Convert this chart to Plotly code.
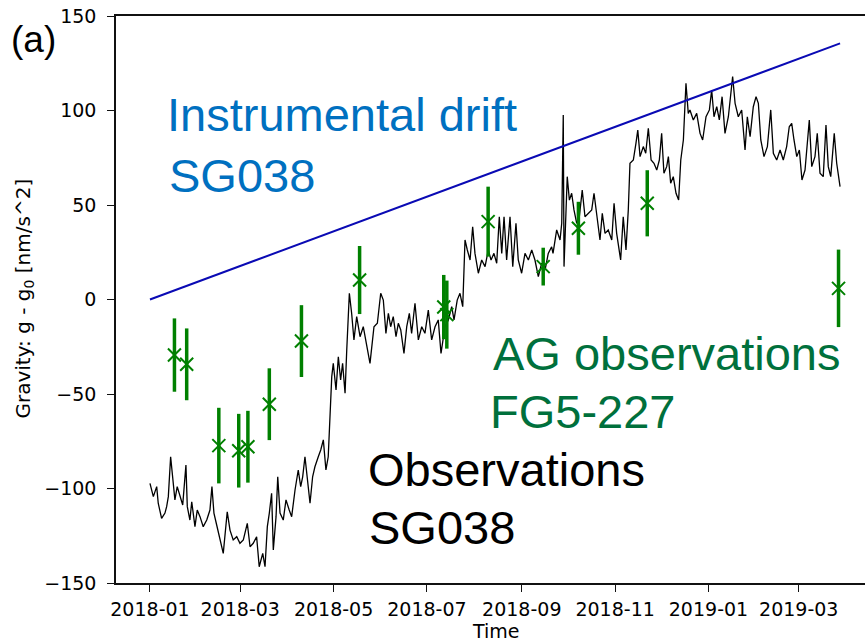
import pandas as pd
import plotly.graph_objects as go

# ---------------- data ----------------
base_date = pd.Timestamp("2018-01-01")

# SG038 observations: days since 2018-01-01, gravity residual [nm/s^2]
sg_day = [0, 2.2, 4.4, 5.4, 7.6, 9.8, 10.9, 12.0, 13.5, 14.6, 16.3, 17.8, 19.6, 21.4, 23.5, 24.4,
          26.1, 27.3, 29.4, 30.9, 32.7, 34.8, 37.1, 39.2, 40.5, 41.8, 43.6, 45.8, 47.9, 50.5, 52.3,
          54.4, 56.7, 58.8, 61.0, 63.6, 65.4, 67.5, 69.7, 71.4, 73.7, 75.2, 76.7, 78.0,
          79.5, 80.6, 82.4, 83.5, 85.0, 87.1, 88.9, 91.0, 92.6, 94.8, 96.9, 98.5, 99.8, 101.3,
          102.8, 104.6, 106.3, 107.8, 110.0, 111.6, 113.3, 115.0, 116.5, 117.6, 118.8, 119.8,
          121.6, 123.1, 124.6, 125.9, 127.5, 128.6, 130.3, 131.8, 133.3, 135.1, 137.3, 139.4,
          141.6, 143.8, 146.4, 148.6, 150.8,
          152.5, 154.2, 155.8, 157.3, 159.0, 160.8, 162.3, 163.9, 166.0, 167.8, 169.5, 171.0,
          173.2, 175.4, 177.6, 179.7, 181.9, 184.1, 186.3, 188.4, 190.2, 192.8, 195.0, 197.2,
          198.7, 200.8, 202.6, 204.4, 205.9, 207.4, 209.2, 210.9, 212.4, 214.6, 216.8, 219.0,
          221.1, 222.9, 224.8, 226.6, 228.3, 229.9, 231.4, 233.1, 235.3, 237.1, 239.2, 240.7,
          242.9, 245.1, 247.3, 249.5, 251.6, 253.8, 256.0, 258.2, 260.3,
          262.5, 263.4, 265.8, 268.0, 269.1, 270.1, 270.6, 271.9, 272.7, 274.1, 275.6, 277.1,
          278.9, 280.6, 282.5, 284.3, 286.5, 288.7, 290.2, 292.0, 294.1, 295.6, 297.4, 299.5,
          301.8, 303.3, 305.0, 307.6, 309.3, 311.1, 312.6, 313.7, 315.9, 317.6, 318.8, 320.3,
          322.4, 324.0, 325.7, 327.5, 329.4, 331.2, 332.9, 334.4, 335.9, 337.7, 338.8, 340.3,
          342.0, 343.8, 345.5, 346.9, 348.6, 349.2, 350.3, 351.8,
          352.9, 355.1, 357.3, 359.5, 361.2, 363.4, 365.6, 367.1, 368.6, 370.4, 372.1, 373.9,
          375.8, 378.0, 380.8, 382.4, 384.5, 386.7, 388.9, 390.4, 392.2, 394.3, 396.1, 397.6,
          399.2, 401.3, 403.5, 405.7, 407.4, 409.6, 411.8, 413.9, 416.1, 417.8, 419.4, 420.9,
          422.7, 424.4, 426.1, 428.1, 429.6, 430.9, 432.5, 434.6, 436.1, 437.9, 440.0, 441.8,
          443.3, 444.9, 447.2, 448.8, 451.0]
sg_val = [-97.3, -104.3, -99, -107.8, -115.8, -113, -109.6, -104.3, -83.2, -93.8, -106, -99, -104.3,
          -108.7, -87.6, -109.6, -116.7, -107, -120.2, -111.4, -114.9, -120.2, -116.7, -111.4, -99,
          -113, -119.3, -127.2, -134.3, -112.3, -122, -127.2, -125.5, -129, -127.2, -118.4, -130.8,
          -129, -125.5, -141.4, -134.3, -141.4, -120.2, -113,
          -102.5, -132.5, -114.9, -93.8, -113, -116.7, -106, -111.4, -114.9, -100.8, -90.2, -99,
          -93.8, -83.2, -95.5, -107.8, -93.8, -88.5, -83.2, -79.6, -74.3, -90.2, -83.2, -63.8,
          -40.8, -33.8, -47.9, -30.3, -42.6, -33.8, -49.6, -26.7, 3.3, -7.3, -21.4, -9.1, -19.7,
          -14.4, -23.2, -33.8, -14.4, -12.6, 3.3,
          -0.3, -17.9, -7.3, -14.4, -9.1, -19.7, -12.6, -16.1, -28.5, -14.4, -7.3, -17.9, -2,
          -21.4, -14.4, -17.9, -5.6, -21.4, -14.4, -10.8, -28.5, -14.4, -10.8, -3.8, -10.8, -0.3,
          3.3, -3.8, 31.5, 26.2, 20.9, 38.5, 24.4, 13.9, 20.9, 17.4, 26.2, 20.9, 24.4, 19.2, 43.8,
          24.4, 43.8, 20.9, 43.8, 17.4, 40.3, 20.9, 13.9, 24.4, 20.9, 26.2, 20.9, 12.1, 19.2, 15.6,
          24.4,
          27.9, 24.4, 36.8, 31.5, 40.3, 97.6, 17.4, 47.4, 65, 52.6, 56.2, 47.4, 40.3, 43.8, 57.9,
          43.8, 45.6, 47.4, 56.2, 43.8, 31.5, 45.6, 35, 36.8, 31.5, 50.9, 35, 20.9, 43.8, 26.2,
          47.4, 72.1, 73.8, 82.6, 89.7, 75.6, 80.9, 77.4, 90.6, 73.8, 72.1, 68.5, 73.8, 87.9, 66.8,
          70.3, 75.6, 61.5, 65, 56.2, 52.6, 73.8, 84.4, 95, 114.4, 98.5,
          100.3, 95, 98.5, 87.9, 84.4, 96.7, 100.3, 110.8, 96.7, 102, 95, 107.3, 87.9, 96.7, 117.9,
          103.8, 96.7, 100.3, 79.1, 96.7, 86.1, 102, 107.3, 103.8, 84.4, 75.6, 80.9, 100.3, 77.4,
          73.8, 79.1, 73.8, 80.9, 91.4, 93.2, 84.4, 75.6, 79.1, 63.2, 68.5, 80.9, 95, 70.3, 75.6,
          87.9, 66.8, 65, 92.3, 70.3, 65, 87.9, 72.1, 59.7]

# Instrumental drift (linear)
drift_date = ["2018-01-01", "2019-03-28"]
drift_val = [0, 135.5]

# AG observations FG5-227
ag_date = ["2018-01-17", "2018-01-25", "2018-02-15", "2018-02-28", "2018-03-06", "2018-03-20",
           "2018-04-10", "2018-05-18", "2018-07-12", "2018-07-14", "2018-08-10", "2018-09-15",
           "2018-10-08", "2018-11-22", "2019-03-27"]
ag_val = [-29.4, -34.3, -77.3, -80, -77.9, -55.4, -22, 10.3, -4, -8, 41.2, 17.4, 37.7, 50.9, 5.9]
ag_err = [19.4, 19, 20, 19.5, 19, 19, 19, 18, 17, 18, 18.5, 10, 14, 17.5, 20.5]

y_ticks = [-150, -100, -50, 0, 50, 100, 150]

# ---------------- figure ----------------
sg_dates = base_date + pd.to_timedelta(sg_day, unit="D")

fig = go.Figure()
fig.add_trace(go.Scatter(x=sg_dates, y=sg_val, mode="lines",
                         line=dict(color="black", width=1.3), hoverinfo="skip"))
fig.add_trace(go.Scatter(x=pd.to_datetime(drift_date), y=drift_val, mode="lines",
                         line=dict(color="#0a0ab4", width=2)))
fig.add_trace(go.Scatter(x=pd.to_datetime(ag_date), y=ag_val, mode="markers",
                         marker=dict(symbol="x-thin", size=13, color="#008000",
                                     line=dict(color="#008000", width=2)),
                         error_y=dict(type="data", array=ag_err, color="#008000",
                                      thickness=3.5, width=0)))

tick_font = dict(family="DejaVu Sans", size=19, color="black")
x_start = base_date + pd.Timedelta(days=-22.2)
x_end = base_date + pd.Timedelta(days=467.3)

fig.update_layout(
    width=865, height=643,
    margin=dict(l=116, r=0, t=16, b=60),
    plot_bgcolor="white", paper_bgcolor="white",
    showlegend=False,
    xaxis=dict(range=[x_start, x_end], showgrid=False, zeroline=False,
               showline=True, linecolor="#111", linewidth=1.5, mirror=True,
               ticks="outside", ticklen=7, tickwidth=1.3, tickcolor="#111",
               tick0="2018-01-01", dtick="M2", tickformat="%Y-%m",
               tickfont=tick_font, ticklabelstandoff=1),
    yaxis=dict(range=[-150, 150], showgrid=False, zeroline=False,
               showline=True, linecolor="#111", linewidth=1.5, mirror=False,
               ticks="outside", ticklen=7, tickwidth=1.3, tickcolor="#111",
               tickvals=y_ticks, tickfont=tick_font, ticklabelstandoff=7),
)

big = "Liberation Sans"
annots = [
    dict(text="(a)", x=-0.1429, y=0.959, font=dict(family=big, size=37, color="black")),
    dict(text="Instrumental drift", x=0.066, y=0.8254, font=dict(family=big, size=47, color="#0070C0")),
    dict(text="SG038", x=0.068, y=0.7187, font=dict(family=big, size=47, color="#0070C0")),
    dict(text="AG observations", x=0.501, y=0.405, font=dict(family=big, size=47, color="#00703C")),
    dict(text="FG5-227", x=0.497, y=0.302, font=dict(family=big, size=47, color="#00703C")),
    dict(text="Observations", x=0.3338, y=0.1993, font=dict(family=big, size=47, color="black")),
    dict(text="SG038", x=0.335, y=0.0979, font=dict(family=big, size=47, color="black")),
]
for a in annots:
    fig.add_annotation(xref="paper", yref="paper", xanchor="left", yanchor="middle",
                       showarrow=False, **a)

fig.add_annotation(text="Time", xref="paper", yref="paper", x=0.5067, y=-0.0845,
                   xanchor="center", yanchor="middle", showarrow=False,
                   font=dict(family="DejaVu Sans", size=19, color="black"))
fig.add_annotation(text="Gravity: g - g<sub>0</sub> [nm/s^2]", xref="paper", yref="paper",
                   x=-0.1228, y=0.5018, xanchor="center", yanchor="middle", textangle=-90,
                   showarrow=False, font=dict(family="DejaVu Sans", size=20, color="black"))

fig.write_html("out.html")
